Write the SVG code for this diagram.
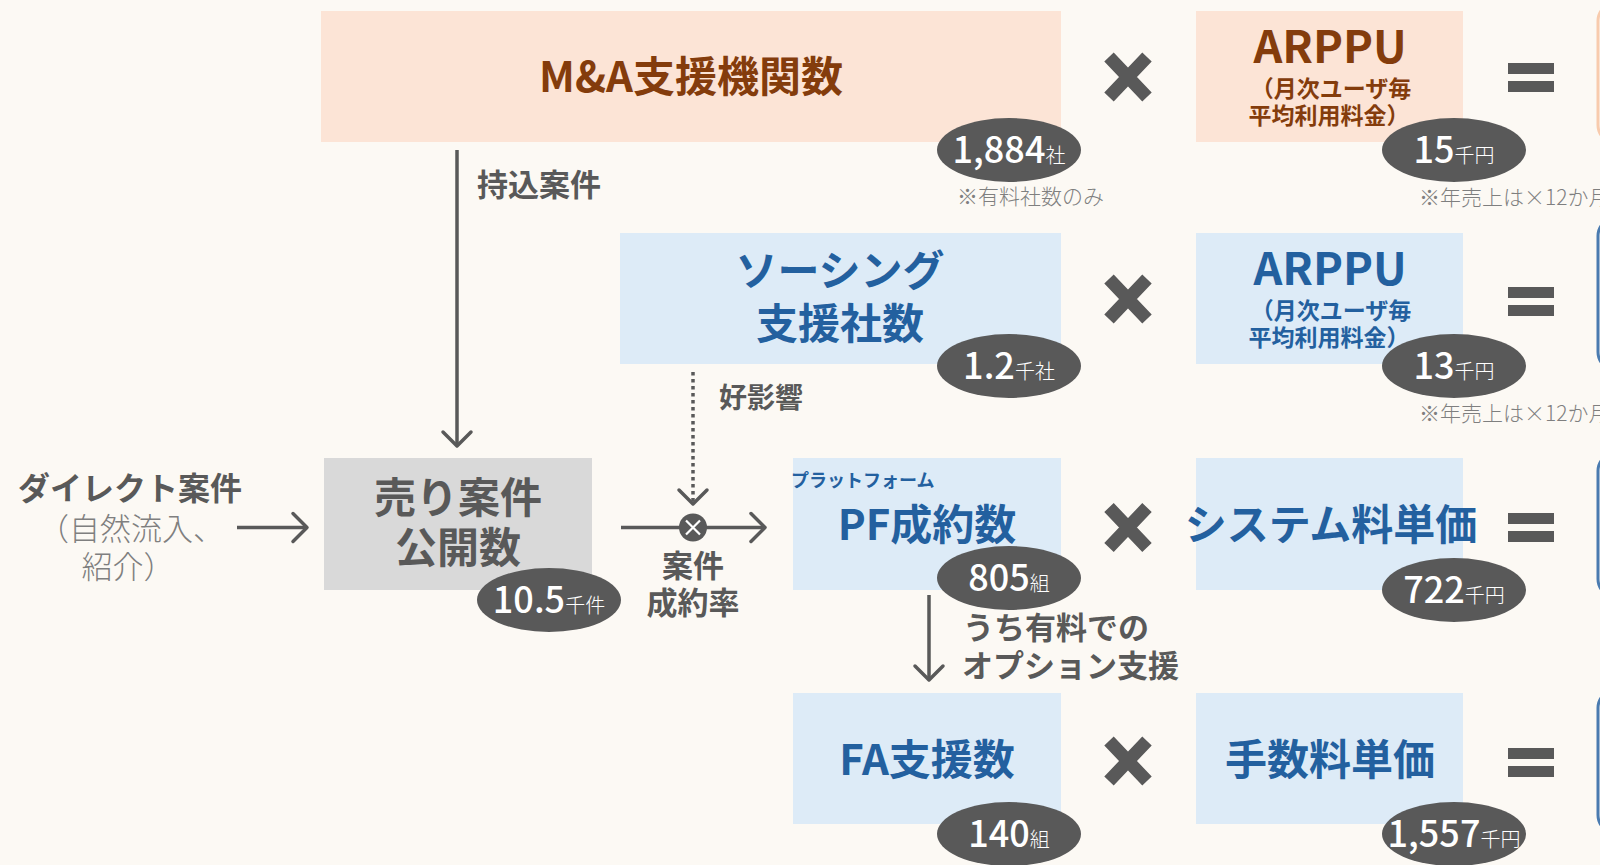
<svg xmlns="http://www.w3.org/2000/svg" width="1600" height="865" viewBox="0 0 1600 865">
<defs>
<style>
text{font-family:"Noto Sans CJK JP","Noto Sans",sans-serif;}
.bg{fill:#fcf9f4;}
.peach{fill:#fce4d6;}
.blue{fill:#ddebf7;}
.gray{fill:#d9d9d9;}
.lb{font-weight:bold;font-size:42px;text-anchor:middle;}
.brown{fill:#843c0c;}
.bt{fill:#23609f;}
.gt{fill:#595959;}
.sub{font-weight:bold;font-size:23px;text-anchor:middle;}
.arp{font-weight:bold;font-size:45px;text-anchor:middle;}
.badge{fill:#595959;}
.num{font-size:36px;fill:#ffffff;text-anchor:middle;font-weight:500;}
.unit{font-size:20px;font-weight:300;}
.note{font-size:21px;fill:#7f7f7f;font-weight:300;}
.lbl{font-size:31px;font-weight:bold;fill:#595959;}
.lite{font-size:31px;font-weight:300;fill:#7f7f7f;text-anchor:middle;}
.conn{fill:none;stroke:#595959;stroke-width:3.5;}
.times{stroke:#595959;stroke-width:13;fill:none;}
.eq{fill:#595959;}
.rb{fill:none;stroke-width:3;}
</style>
<marker id="chev" viewBox="-17 -17 20 34" refX="0" refY="0" markerWidth="20" markerHeight="34" markerUnits="userSpaceOnUse" orient="auto">
<path d="M-14,-14 L0,0 L-14,14" fill="none" stroke="#595959" stroke-width="3.5" stroke-dasharray="none" stroke-linecap="round" stroke-linejoin="round"/>
</marker>
</defs>
<rect class="bg" x="0" y="0" width="1600" height="865"/>

<!-- right edge result boxes -->
<g id="result1"><rect class="rb" x="1598" y="3" width="200" height="140" rx="18" stroke="#f8cbad"/></g>
<g id="result2"><rect class="rb" x="1598" y="218" width="200" height="152" rx="18" stroke="#4a7bb0"/></g>
<g id="result3"><rect class="rb" x="1598" y="453" width="200" height="144" rx="18" stroke="#4a7bb0"/></g>
<g id="result4"><rect class="rb" x="1598" y="690" width="200" height="143" rx="18" stroke="#4a7bb0"/></g>

<g id="connectors">
<line class="conn" x1="457" y1="150" x2="457" y2="446" marker-end="url(#chev)"/>
<line class="conn" x1="237" y1="527.5" x2="307" y2="527.5" marker-end="url(#chev)"/>
<line class="conn" x1="621" y1="527.5" x2="765" y2="527.5" marker-end="url(#chev)"/>
<line class="conn" x1="693" y1="372" x2="693" y2="504" stroke-dasharray="3.5 3.5" marker-end="url(#chev)"/>
<line class="conn" x1="929" y1="595" x2="929" y2="680" marker-end="url(#chev)"/>
<circle cx="693" cy="527.5" r="14" fill="#595959"/>
<path d="M686,520.5 L700,534.5 M700,520.5 L686,534.5" stroke="#ffffff" stroke-width="2.2" fill="none"/>
</g>

<g id="label-mochikomi"><text class="lbl" x="477" y="196">持込案件</text></g>
<g id="label-koueikyou"><text class="lbl" x="719" y="408" style="font-size:28px">好影響</text></g>
<g id="label-seiyaku"><text class="lbl" x="693" y="577" text-anchor="middle">案件</text><text class="lbl" x="693" y="614" text-anchor="middle">成約率</text></g>
<g id="label-option"><text class="lbl" x="963" y="639">うち有料での</text><text class="lbl" x="962" y="677">オプション支援</text></g>
<g id="direct">
<text class="lbl" x="130" y="500" text-anchor="middle" style="font-size:32px">ダイレクト案件</text>
<text class="lite" x="131" y="540">（自然流入、</text>
<text class="lite" x="128" y="578">紹介）</text>
</g>

<!-- Row 1 -->
<g id="ma">
<rect class="peach" x="321" y="11" width="740" height="131"/>
<text class="lb brown" x="691" y="92">M&amp;A支援機関数</text>
<ellipse class="badge" cx="1009" cy="150" rx="72" ry="32"/>
<text class="num" x="1009" y="163">1,884<tspan class="unit">社</tspan></text>
<text class="note" x="957" y="204">※有料社数のみ</text>
</g>
<g id="times1"><path class="times" d="M1109,57 L1147,97 M1147,57 L1109,97"/></g>
<g id="arppu1">
<rect class="peach" x="1196" y="11" width="267" height="131"/>
<text class="arp brown" x="1330" y="63">ARPPU</text>
<text class="sub brown" x="1331" y="97">（月次ユーザ毎</text>
<text class="sub brown" x="1329" y="124">平均利用料金）</text>
<ellipse class="badge" cx="1454" cy="150" rx="72" ry="32"/>
<text class="num" x="1454" y="163">15<tspan class="unit">千円</tspan></text>
<text class="note" x="1419" y="205">※年売上は×12か月</text>
</g>
<g id="eq1"><rect class="eq" x="1508" y="63" width="46" height="11"/><rect class="eq" x="1508" y="81" width="46" height="11"/></g>

<!-- Row 2 -->
<g id="sourcing">
<rect class="blue" x="620" y="233" width="441" height="131"/>
<text class="lb bt" x="840" y="286">ソーシング</text>
<text class="lb bt" x="840" y="339">支援社数</text>
<ellipse class="badge" cx="1009" cy="366" rx="72" ry="32"/>
<text class="num" x="1009" y="379">1.2<tspan class="unit">千社</tspan></text>
</g>
<g id="times2"><path class="times" d="M1109,279 L1147,319 M1147,279 L1109,319"/></g>
<g id="arppu2">
<rect class="blue" x="1196" y="233" width="267" height="131"/>
<text class="arp bt" x="1330" y="285">ARPPU</text>
<text class="sub bt" x="1331" y="319">（月次ユーザ毎</text>
<text class="sub bt" x="1329" y="346">平均利用料金）</text>
<ellipse class="badge" cx="1454" cy="366" rx="72" ry="32"/>
<text class="num" x="1454" y="379">13<tspan class="unit">千円</tspan></text>
<text class="note" x="1419" y="421">※年売上は×12か月</text>
</g>
<g id="eq2"><rect class="eq" x="1508" y="287" width="46" height="11"/><rect class="eq" x="1508" y="305" width="46" height="11"/></g>

<!-- Row 3 -->
<g id="uri">
<rect class="gray" x="324" y="458" width="268" height="132"/>
<text class="lb gt" x="458" y="513">売り案件</text>
<text class="lb gt" x="458" y="563">公開数</text>
<ellipse class="badge" cx="549" cy="600" rx="72" ry="32"/>
<text class="num" x="549" y="613">10.5<tspan class="unit">千件</tspan></text>
</g>
<g id="pf">
<rect class="blue" x="793" y="458" width="268" height="132"/>
<text class="bt" x="791" y="487" style="font-size:18px;font-weight:bold">プラットフォーム</text>
<text class="lb bt" x="927" y="540">PF成約数</text>
<ellipse class="badge" cx="1009" cy="578" rx="72" ry="32"/>
<text class="num" x="1009" y="591">805<tspan class="unit">組</tspan></text>
</g>
<g id="times3"><path class="times" d="M1109,507.5 L1147,547.5 M1147,507.5 L1109,547.5"/></g>
<g id="system">
<rect class="blue" x="1196" y="458" width="267" height="132"/>
<text class="lb bt" x="1331" y="540">システム料単価</text>
<ellipse class="badge" cx="1454" cy="590" rx="72" ry="32"/>
<text class="num" x="1454" y="603">722<tspan class="unit">千円</tspan></text>
</g>
<g id="eq3"><rect class="eq" x="1508" y="513" width="46" height="11"/><rect class="eq" x="1508" y="531" width="46" height="11"/></g>

<!-- Row 4 -->
<g id="fa">
<rect class="blue" x="793" y="693" width="268" height="131"/>
<text class="lb bt" x="927" y="775">FA支援数</text>
<ellipse class="badge" cx="1009" cy="834" rx="72" ry="32"/>
<text class="num" x="1009" y="847">140<tspan class="unit">組</tspan></text>
</g>
<g id="times4"><path class="times" d="M1109,741 L1147,781 M1147,741 L1109,781"/></g>
<g id="fee">
<rect class="blue" x="1196" y="693" width="267" height="131"/>
<text class="lb bt" x="1330" y="775">手数料単価</text>
<ellipse class="badge" cx="1454" cy="834" rx="72" ry="32"/>
<text class="num" x="1454" y="847">1,557<tspan class="unit">千円</tspan></text>
</g>
<g id="eq4"><rect class="eq" x="1508" y="748" width="46" height="11"/><rect class="eq" x="1508" y="766" width="46" height="11"/></g>
</svg>
